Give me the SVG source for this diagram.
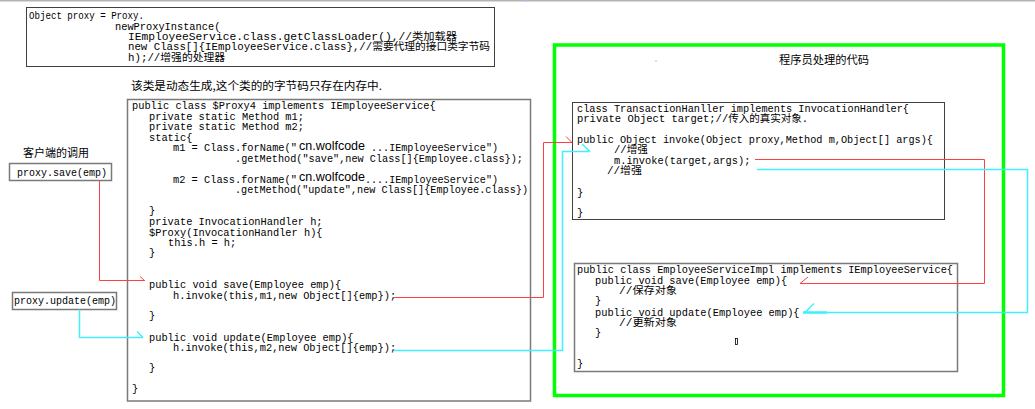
<svg xmlns="http://www.w3.org/2000/svg" width="1035" height="409" viewBox="0 0 1035 409">
<style>
.code{font-family:"Liberation Mono","Noto Sans CJK SC",monospace;font-size:10.33px;fill:#000}
.cjk{font-family:"Noto Sans CJK SC","Liberation Sans",sans-serif;fill:#000}
.wolf{font-family:"Liberation Sans","Noto Sans CJK SC",sans-serif;font-size:12.5px;fill:#000}
.box{fill:#fff;stroke:#404040;stroke-width:1}
.gbox{fill:#fff;stroke:#7a7a7a;stroke-width:1.5}
.red{fill:none;stroke:#ff4040;stroke-width:1}
.cyan{fill:none;stroke:#40f0ff;stroke-width:1.5}
</style>
<rect x="0" y="0" width="1035" height="409" fill="#fff"/>
<rect x="0" y="0" width="1035" height="1.5" fill="#b4b4b4"/>
<rect x="525" y="0" width="1.5" height="2" fill="#9fc4ff"/>

<g id="creation-code">
<rect class="box" x="26.5" y="7.5" width="468" height="59"/>
<text class="code" x="29" y="19" textLength="115" lengthAdjust="spacingAndGlyphs">Object proxy = Proxy.</text>
<text class="code" x="115" y="29.5">newProxyInstance(</text>
<text class="code" x="128" y="39.5" textLength="329" lengthAdjust="spacingAndGlyphs">IEmployeeService.class.getClassLoader(),//类加载器</text>
<text class="code" x="128" y="49.5" textLength="362" lengthAdjust="spacingAndGlyphs">new Class[]{IEmployeeService.class},//需要代理的接口类字节码</text>
<text class="code" x="128" y="60.5" font-size="9.6" textLength="97" lengthAdjust="spacingAndGlyphs">h);//增强的处理器</text>
</g>

<g id="proxy-caption">
<text class="cjk" x="131" y="90" font-size="11.5" textLength="251" lengthAdjust="spacingAndGlyphs">该类是动态生成,这个类的的字节码只存在内存中.</text>
</g>

<g id="proxy-class">
<rect class="gbox" x="127.5" y="99.5" width="403" height="301.5"/>
<text class="code" x="132" y="109">public class $Proxy4 implements IEmployeeService{</text>
<text class="code" x="149" y="120">private static Method m1;</text>
<text class="code" x="149" y="130">private static Method m2;</text>
<text class="code" x="149" y="141">static{</text>
<text class="code" x="173" y="151">m1 = Class.forName("</text>
<text class="wolf" x="299" y="149.5">cn.wolfcode</text>
<text class="code" x="371" y="151" textLength="127" lengthAdjust="spacingAndGlyphs">...IEmployeeService")</text>
<text class="code" x="235" y="162" textLength="288" lengthAdjust="spacingAndGlyphs">.getMethod("save",new Class[]{Employee.class});</text>
<text class="code" x="173" y="183">m2 = Class.forName("</text>
<text class="wolf" x="299" y="180.5">cn.wolfcode</text>
<text class="code" x="365" y="183" textLength="133" lengthAdjust="spacingAndGlyphs">....IEmployeeService")</text>
<text class="code" x="235" y="193" textLength="293" lengthAdjust="spacingAndGlyphs">.getMethod("update",new Class[]{Employee.class})</text>
<text class="code" x="149" y="213.5">}</text>
<text class="code" x="149" y="224.5">private InvocationHandler h;</text>
<text class="code" x="149" y="235.5">$Proxy(InvocationHandler h){</text>
<text class="code" x="168" y="245.5">this.h = h;</text>
<text class="code" x="149" y="255.5">}</text>
<text class="code" x="149" y="287.5">public void save(Employee emp){</text>
<text class="code" x="173" y="298.5">h.invoke(this,m1,new Object[]{emp});</text>
<text class="code" x="149" y="318.5">}</text>
<text class="code" x="149" y="340.5">public void update(Employee emp){</text>
<text class="code" x="173" y="350.5">h.invoke(this,m2,new Object[]{emp});</text>
<text class="code" x="149" y="370.5">}</text>
<text class="code" x="132" y="391.5">}</text>
</g>

<g id="client-caption">
<text class="cjk" x="23" y="157" font-size="11" textLength="66" lengthAdjust="spacingAndGlyphs">客户端的调用</text>
</g>

<g id="client-save">
<rect class="gbox" x="9.5" y="163.5" width="102" height="17"/>
<text class="code" x="17" y="175.5" textLength="90" lengthAdjust="spacingAndGlyphs">proxy.save(emp)</text>
</g>

<g id="client-update">
<rect class="gbox" x="12.5" y="292.5" width="104" height="17"/>
<text class="code" x="14" y="304" textLength="102" lengthAdjust="spacingAndGlyphs">proxy.update(emp)</text>
</g>

<g id="programmer-area">
<rect x="554.5" y="45" width="449" height="350.5" fill="none" stroke="#00ff00" stroke-width="3.5"/>
<text class="cjk" x="779" y="63.5" font-size="11.5" textLength="90" lengthAdjust="spacingAndGlyphs">程序员处理的代码</text>
<rect x="655.5" y="60.5" width="1" height="1" fill="#ff4040"/>
</g>

<g id="transaction-handler">
<rect class="box" x="572.5" y="102.5" width="372" height="117"/>
<text class="code" x="577" y="111.5" textLength="332" lengthAdjust="spacingAndGlyphs">class TransactionHanller implements InvocationHandler{</text>
<text class="code" x="577" y="121.5" textLength="231" lengthAdjust="spacingAndGlyphs">private Object target;//传入的真实对象.</text>
<text class="code" x="577" y="142.5" textLength="356" lengthAdjust="spacingAndGlyphs">public Object invoke(Object proxy,Method m,Object[] args){</text>
<text class="code" x="614" y="153" textLength="34" lengthAdjust="spacingAndGlyphs">//增强</text>
<text class="code" x="614" y="163.5">m.invoke(target,args);</text>
<text class="code" x="607" y="174" textLength="35" lengthAdjust="spacingAndGlyphs">//增强</text>
<text class="code" x="577" y="195.5">}</text>
<text class="code" x="577" y="215.5">}</text>
</g>

<g id="employee-service-impl">
<rect class="gbox" x="574.5" y="263.5" width="383" height="108"/>
<text class="code" x="577" y="272.5" textLength="376" lengthAdjust="spacingAndGlyphs">public class EmployeeServiceImpl implements IEmployeeService{</text>
<text class="code" x="595" y="283.5">public void save(Employee emp){</text>
<text class="code" x="619" y="294" textLength="58" lengthAdjust="spacingAndGlyphs">//保存对象</text>
<text class="code" x="595" y="303.5">}</text>
<text class="code" x="595" y="315.5">public void update(Employee emp){</text>
<text class="code" x="619" y="326" textLength="58" lengthAdjust="spacingAndGlyphs">//更新对象</text>
<text class="code" x="595" y="335.5">}</text>
<rect x="735.5" y="338.5" width="2" height="6" fill="none" stroke="#000" stroke-width="0.8"/>
<text class="code" x="577" y="366.5">}</text>
</g>

<g id="connectors">
<path class="red" d="M99.5,180.5 V280.5 H145 M140,276.5 L145,281"/>
<path class="cyan" d="M79.5,309.5 V337.5 H143 M137,331.5 L143,337.5"/>
<path class="red" d="M394,297.5 H543.5 V142.5 H572 M566,136.5 L572,142.5"/>
<path class="cyan" d="M394,350.5 H562.5 V151.5 H590 M582,144 L590,151.5"/>
<path class="red" d="M755,159.5 H984.5 V283.5 H800 M808,277 L800,283.5"/>
<path class="cyan" d="M757,169.5 H1027.5 V312.5 H803 M814,303.5 L805,312.5"/>
<path d="M803,312.5 H827" stroke="#40f0ff" stroke-width="2.5" fill="none"/>
</g>
</svg>
